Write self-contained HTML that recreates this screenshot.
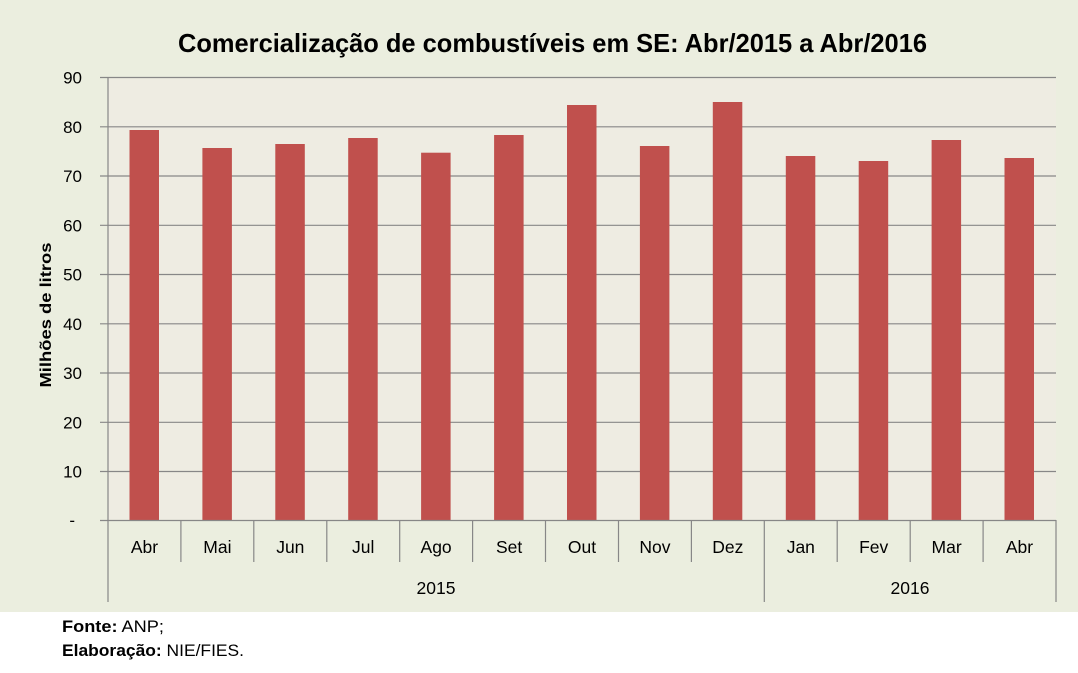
<!DOCTYPE html>
<html><head><meta charset="utf-8"><style>
html,body{margin:0;padding:0;background:#fff;}
svg{display:block;}
text{font-family:"Liberation Sans",sans-serif;fill:#000;}
</style></head><body>
<svg width="1078" height="673" viewBox="0 0 1078 673" xmlns="http://www.w3.org/2000/svg">
<rect x="0" y="0" width="1078" height="612" fill="#EBEEDF"/>
<rect x="108" y="77" width="948" height="443.5" fill="#EEECE2"/>
<text x="178" y="52" font-size="26" font-weight="bold" textLength="749" lengthAdjust="spacingAndGlyphs">Comercialização de combustíveis em SE: Abr/2015 a Abr/2016</text>
<g stroke="#878787" stroke-width="1.2">
<line x1="100" y1="77.5" x2="1056" y2="77.5"/>
<line x1="100" y1="126.8" x2="1056" y2="126.8"/>
<line x1="100" y1="176" x2="1056" y2="176"/>
<line x1="100" y1="225.3" x2="1056" y2="225.3"/>
<line x1="100" y1="274.5" x2="1056" y2="274.5"/>
<line x1="100" y1="323.8" x2="1056" y2="323.8"/>
<line x1="100" y1="373" x2="1056" y2="373"/>
<line x1="100" y1="422.3" x2="1056" y2="422.3"/>
<line x1="100" y1="471.5" x2="1056" y2="471.5"/>
</g>
<g fill="#C0504D">
<rect x="129.5" y="130" width="29.5" height="390.5"/>
<rect x="202.4" y="148" width="29.5" height="372.5"/>
<rect x="275.3" y="144" width="29.5" height="376.5"/>
<rect x="348.2" y="138" width="29.5" height="382.5"/>
<rect x="421.1" y="152.7" width="29.5" height="367.8"/>
<rect x="494.1" y="135" width="29.5" height="385.5"/>
<rect x="567" y="105" width="29.5" height="415.5"/>
<rect x="639.9" y="146" width="29.5" height="374.5"/>
<rect x="712.8" y="102" width="29.5" height="418.5"/>
<rect x="785.8" y="156" width="29.5" height="364.5"/>
<rect x="858.7" y="161" width="29.5" height="359.5"/>
<rect x="931.6" y="140" width="29.5" height="380.5"/>
<rect x="1004.5" y="158" width="29.5" height="362.5"/>
</g>
<g stroke="#878787" stroke-width="1.2">
<line x1="100" y1="520.5" x2="1056" y2="520.5"/>
<line x1="108" y1="77" x2="108" y2="602"/>
<line x1="180.9" y1="520" x2="180.9" y2="562"/>
<line x1="253.8" y1="520" x2="253.8" y2="562"/>
<line x1="326.8" y1="520" x2="326.8" y2="562"/>
<line x1="399.7" y1="520" x2="399.7" y2="562"/>
<line x1="472.6" y1="520" x2="472.6" y2="562"/>
<line x1="545.5" y1="520" x2="545.5" y2="562"/>
<line x1="618.5" y1="520" x2="618.5" y2="562"/>
<line x1="691.4" y1="520" x2="691.4" y2="562"/>
<line x1="764.3" y1="520" x2="764.3" y2="602"/>
<line x1="837.2" y1="520" x2="837.2" y2="562"/>
<line x1="910.2" y1="520" x2="910.2" y2="562"/>
<line x1="983.1" y1="520" x2="983.1" y2="562"/>
<line x1="1056" y1="520" x2="1056" y2="602"/>
</g>
<g font-size="17" text-anchor="end">
<text x="82" y="83.5">90</text>
<text x="82" y="132.8">80</text>
<text x="82" y="182">70</text>
<text x="82" y="231.3">60</text>
<text x="82" y="280.5">50</text>
<text x="82" y="329.8">40</text>
<text x="82" y="379">30</text>
<text x="82" y="428.3">20</text>
<text x="82" y="477.5">10</text>
<text x="75" y="526">-</text>
</g>
<text transform="translate(51,315) rotate(-90)" font-size="16" font-weight="bold" text-anchor="middle" textLength="145" lengthAdjust="spacingAndGlyphs">Milhões de litros</text>
<g font-size="17.5" text-anchor="middle">
<text x="144.5" y="553">Abr</text>
<text x="217.4" y="553">Mai</text>
<text x="290.3" y="553">Jun</text>
<text x="363.2" y="553">Jul</text>
<text x="436.1" y="553">Ago</text>
<text x="509.1" y="553">Set</text>
<text x="582" y="553">Out</text>
<text x="654.9" y="553">Nov</text>
<text x="727.8" y="553">Dez</text>
<text x="800.8" y="553">Jan</text>
<text x="873.7" y="553">Fev</text>
<text x="946.6" y="553">Mar</text>
<text x="1019.5" y="553">Abr</text>
<text x="436" y="594">2015</text>
<text x="910" y="594">2016</text>
</g>
<text x="62" y="632" font-size="17" textLength="102" lengthAdjust="spacingAndGlyphs"><tspan font-weight="bold">Fonte:</tspan> ANP;</text>
<text x="62" y="656" font-size="17" textLength="182" lengthAdjust="spacingAndGlyphs"><tspan font-weight="bold">Elaboração:</tspan> NIE/FIES.</text>
</svg>
</body></html>
